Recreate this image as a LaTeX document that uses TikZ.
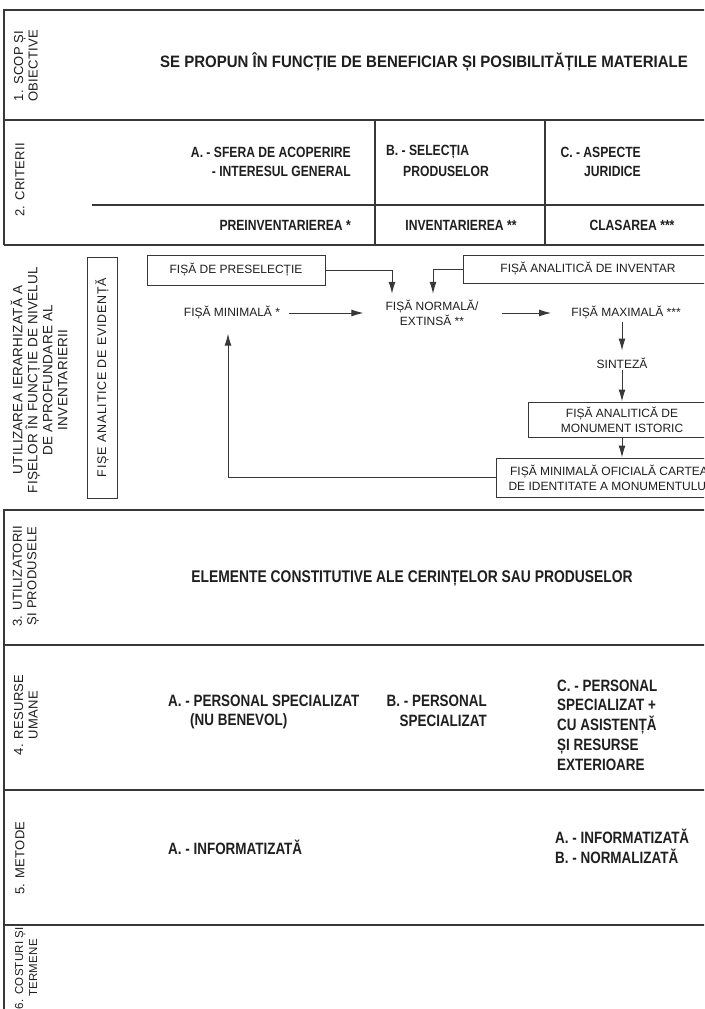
\documentclass[tikz,border=0pt]{standalone}
\usepackage{fontspec}
\setmainfont{Liberation Sans}
\newfontfamily\bnarrow{Liberation Sans}[FakeStretch=0.82]
\newfontfamily\bmid{Liberation Sans}[FakeStretch=0.91]
\newfontfamily\lblfont{Liberation Sans}[LetterSpace=2]
\newfontfamily\evfont{Liberation Sans}[LetterSpace=6]
\usetikzlibrary{arrows.meta}
\definecolor{ink}{gray}{0.12}
\definecolor{rule}{gray}{0.22}
\tikzset{
  frame/.style={draw=rule, line width=1.1pt},
  arr/.style={draw=rule, line width=1pt, -{Latex[length=12pt,width=7pt]}},
  box/.style={draw=rule, line width=1pt, inner sep=1pt, text=ink, font=\fontsize{12}{15}\selectfont, align=center},
  bt/.style={font=\bnarrow\bfseries\fontsize{16.4}{19.8}\selectfont, text=ink, inner sep=0pt},
  bts/.style={font=\bnarrow\bfseries\fontsize{14.8}{19.5}\selectfont, text=ink, inner sep=0pt},
  rt/.style={font=\fontsize{12}{15.5}\selectfont, text=ink, inner sep=2pt, align=center},
  lbl/.style={rotate=90, font=\lblfont\fontsize{13}{14.5}\selectfont, text=ink, inner sep=0pt, align=center},
  lblu/.style={rotate=90, font=\lblfont\fontsize{13.5}{15}\selectfont, text=ink, inner sep=0pt, align=center}
}
\begin{document}
\begin{tikzpicture}[x=1pt,y=-1pt]
\useasboundingbox (0,0) rectangle (704,1009);
\fill[white] (0,0) rectangle (704,1009);
\clip (0,0) rectangle (704,1009);
% frame
\draw[frame] (4,245) -- (4,10) -- (720,10);
\draw[frame] (4,120) -- (720,120);
\draw[frame] (4,245) -- (720,245);
\draw[frame] (375,120) -- (375,245);
\draw[frame] (545,120) -- (545,245);
\draw[frame] (92,205) -- (720,205);
\draw[frame] (4,1015) -- (4,510) -- (720,510);
\draw[frame] (4,645) -- (720,645);
\draw[frame] (4,790) -- (720,790);
\draw[frame] (4,925) -- (720,925);
% left labels
\node[lbl] (l1) at (26,66) {1. SCOP ȘI\\OBIECTIVE};
\node[lbl] (l2) at (20,180) {2. CRITERII};
\node[lblu] (lu) at (39,380) {UTILIZAREA IERARHIZATĂ A\\FIȘELOR ÎN FUNCȚIE DE NIVELUL\\DE APROFUNDARE AL\\INVENTARIERII};
\node[lbl] (l3) at (26,576) {3. UTILIZATORII\\ȘI PRODUSELE};
\node[lbl] (l4) at (26,715) {4. RESURSE\\UMANE};
\node[lbl] (l5) at (20,858) {5. METODE};
\node[lbl, font=\lblfont\fontsize{11.5}{14}\selectfont] (l6) at (26,968) {6. COSTURI ȘI\\TERMENE};
% section 1
\node[font=\bmid\bfseries\fontsize{16.5}{19.8}\selectfont, text=ink, inner sep=0pt] (s1) at (424,62) {SE PROPUN ÎN FUNCȚIE DE BENEFICIAR ȘI POSIBILITĂȚILE MATERIALE};
% section 2
\node[bts, anchor=east] (a1) at (351,152) {A. - SFERA DE ACOPERIRE};
\node[bts, anchor=east] (a2) at (351,171) {- INTERESUL GENERAL};
\node[bts, anchor=west] (b1) at (386,152) {B. - SELECȚIA};
\node[bts, anchor=west] (b2) at (403,171) {PRODUSELOR};
\node[bts, anchor=east] (c1) at (641,152) {C. - ASPECTE};
\node[bts, anchor=east] (c2) at (641,171) {JURIDICE};
\node[bts, anchor=east] (pi) at (351,225) {PREINVENTARIEREA *};
\node[bts] (iv) at (461,225) {INVENTARIEREA **};
\node[bts] (cl) at (632,225) {CLASAREA ***};
% section utilizarea
\node[box, rotate=90, minimum width=241pt, minimum height=30pt, font=\evfont\fontsize{12.5}{15}\selectfont] (evid) at (102,377.5) {FIȘE ANALITICE DE EVIDENȚĂ};
\node[box, minimum width=178pt, minimum height=30pt] (pre) at (236,270) {FIȘĂ DE PRESELECȚIE};
\node[box, minimum width=250pt, minimum height=28pt] (inv) at (588,269) {FIȘĂ ANALITICĂ DE INVENTAR};
\node[rt] (min) at (232,313) {FIȘĂ MINIMALĂ *};
\node[rt] (norm) at (432,313) {FIȘĂ NORMALĂ/\\EXTINSĂ **};
\node[rt] (max) at (626,313) {FIȘĂ MAXIMALĂ ***};
\node[rt] (sin) at (622,363) {SINTEZĂ};
\node[box, minimum width=188pt, minimum height=35pt] (mon) at (622,419.5) {FIȘĂ ANALITICĂ DE\\MONUMENT ISTORIC};
\node[box, minimum width=226pt, minimum height=39pt] (ofi) at (609,477.5) {FIȘĂ MINIMALĂ OFICIALĂ CARTEA\\DE IDENTITATE A MONUMENTULUI};
\draw[arr] (pre.east) -| ([xshift=-40pt,yshift=4pt]norm.north);
\draw[arr] (inv.west) -| ([xshift=1pt,yshift=4pt]norm.north);
\draw[arr] ([xshift=7pt]min.east) -- ([xshift=-20pt]norm.west);
\draw[arr] ([xshift=21pt]norm.east) -- ([xshift=-18pt]max.west);
\draw[arr] ([xshift=-4pt]max.south) -- ([xshift=-4pt,yshift=5pt]max.south |- sin.north);
\draw[arr] (sin.south) -- (mon.north);
\draw[arr] (mon.south) -- (ofi.north -| mon.south);
\draw[arr] (ofi.west) -| ([xshift=-4pt,yshift=-12pt]min.south);
% section 3
\node[bt, font=\bnarrow\bfseries\fontsize{16.9}{19.8}\selectfont] (s3) at (412,578) {ELEMENTE CONSTITUTIVE ALE CERINȚELOR SAU PRODUSELOR};
% section 4
\node[bt, anchor=west] (pa1) at (168,701) {A. - PERSONAL SPECIALIZAT};
\node[bt, anchor=west] (pa2) at (190,721) {(NU BENEVOL)};
\node[bt, anchor=east] (pb1) at (487,701) {B. - PERSONAL};
\node[bt, anchor=east] (pb2) at (487,721) {SPECIALIZAT};
\node[bt, anchor=west, align=left] (pc) at (557,725) {C. - PERSONAL\\SPECIALIZAT +\\CU ASISTENȚĂ\\ȘI RESURSE\\EXTERIOARE};
% section 5
\node[bt, anchor=west] (m1) at (168,847) {A. - INFORMATIZATĂ};
\node[bt, anchor=west, align=left] (m2) at (555,846) {A. - INFORMATIZATĂ\\B. - NORMALIZATĂ};
\end{tikzpicture}
\end{document}
